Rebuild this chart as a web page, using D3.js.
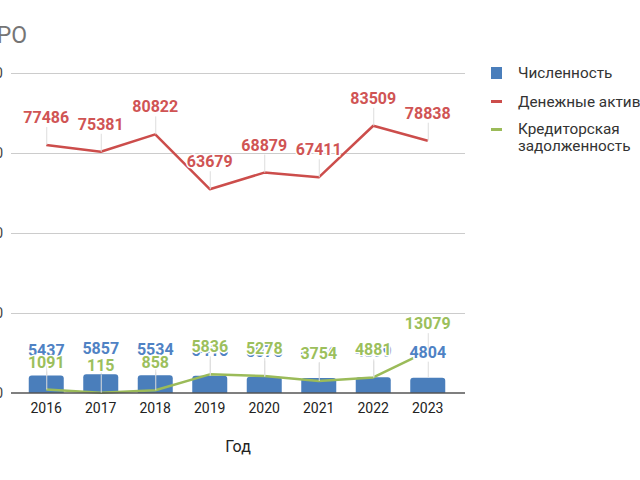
<!DOCTYPE html>
<html>
<head>
<meta charset="utf-8">
<script src="https://cdn.jsdelivr.net/npm/d3@7"></script>
<style>
    body { margin: 0; background: #fff; }
    svg { font-family: Roboto, "Noto Sans", sans-serif; }
</style>
</head>
<body>
<div id="chart"></div>
<script>
var years = ["2016", "2017", "2018", "2019", "2020", "2021", "2022", "2023"];
var staff = [5437, 5857, 5534, 5416, 5075, 4706, 4899, 4804];
var cash = [77486, 75381, 80822, 63679, 68879, 67411, 83509, 78838];
var debt = [1091, 115, 858, 5836, 5278, 3754, 4881, 13079];
var yTicks = [0, 25000, 50000, 75000, 100000];
var legendItems = ["Численность", "Денежные активы", "Кредиторская задолженность"];

Chart = function(_element) {
    this.element = _element;
    this.initVis();
}

Chart.prototype.initVis = function() {
    var vis = this;

    vis.width = 640;
    vis.height = 480;
    vis.colors = {blue: "#4a7ebb", red: "#cc4d4b", green: "#9bbb59"};
    vis.labelColors = {blue: "#4f82c4", red: "#d05454", green: "#9cbf5c"};

    vis.svg = d3.select("#" + vis.element).append("svg")
        .attr("width", vis.width)
        .attr("height", vis.height);

    // plot area
    vis.left = 11;
    vis.right = 465;

    vis.x = d3.scaleBand()
        .domain(years)
        .range([19, 455]);

    vis.y = d3.scaleLinear()
        .domain([0, 100000])
        .range([393, 73]);

    /* title (cut off on the left like the original) */
    vis.svg.append("text")
        .attr("x", 27)
        .attr("y", 43)
        .attr("text-anchor", "end")
        .style("font-size", "23px")
        .style("fill", "#757575")
        .text("РО");

    /* gridlines + y labels */
    vis.svg.append("g").selectAll("line")
        .data(yTicks.slice(1))
        .enter().append("line")
        .attr("x1", vis.left)
        .attr("x2", vis.right)
        .attr("y1", function(d) { return vis.y(d) + 0.5; })
        .attr("y2", function(d) { return vis.y(d) + 0.5; })
        .style("stroke", "#cccccc");

    vis.svg.append("g").selectAll("text")
        .data(yTicks)
        .enter().append("text")
        .attr("x", 3)
        .attr("y", function(d) { return vis.y(d) + 5; })
        .attr("text-anchor", "end")
        .style("font-size", "14px")
        .style("fill", "#444")
        .text(function(d) { return d; });

    vis.drawBars();
    vis.drawLine(cash, vis.colors.red);
    vis.drawLine(debt, vis.colors.green);

    // baseline
    vis.svg.append("line")
        .attr("x1", vis.left)
        .attr("x2", vis.right)
        .attr("y1", vis.y(0))
        .attr("y2", vis.y(0))
        .style("stroke", "#555")
        .style("stroke-width", 1.5);

    /* x axis */
    vis.svg.append("g").selectAll("text")
        .data(years)
        .enter().append("text")
        .attr("x", function(d) { return vis.x(d) + vis.x.bandwidth() / 2; })
        .attr("y", 413)
        .attr("text-anchor", "middle")
        .style("font-size", "14px")
        .style("fill", "#222")
        .text(function(d) { return d; });

    vis.svg.append("text")
        .attr("x", (vis.left + vis.right) / 2)
        .attr("y", 452)
        .attr("text-anchor", "middle")
        .style("font-size", "16px")
        .style("fill", "#222")
        .text("Год");

    /* data labels: blue first, green on top */
    vis.drawLabels(staff, 20, vis.labelColors.blue);
    vis.drawLabels(cash, 22, vis.labelColors.red);
    vis.drawLabels(debt, 22, vis.labelColors.green);

    vis.drawLegend();
};

Chart.prototype.drawBars = function() {
    var vis = this;
    var bw = 35;

    vis.svg.append("g").selectAll("path")
        .data(staff)
        .enter().append("path")
        .attr("d", function(d, i) {
            var cx = vis.x(years[i]) + vis.x.bandwidth() / 2;
            var x0 = cx - bw / 2, x1 = cx + bw / 2;
            var top = vis.y(d), bottom = vis.y(0), r = 3;
            return "M" + x0 + "," + bottom + "L" + x0 + "," + (top + r) +
                "Q" + x0 + "," + top + " " + (x0 + r) + "," + top +
                "L" + (x1 - r) + "," + top +
                "Q" + x1 + "," + top + " " + x1 + "," + (top + r) +
                "L" + x1 + "," + bottom + "Z";
        })
        .style("fill", vis.colors.blue);
};

Chart.prototype.drawLine = function(values, color) {
    var vis = this;

    var line = d3.line()
        .x(function(d, i) { return vis.x(years[i]) + vis.x.bandwidth() / 2; })
        .y(function(d) { return vis.y(d); });

    vis.svg.append("path")
        .datum(values)
        .attr("d", line)
        .style("fill", "none")
        .style("stroke", color)
        .style("stroke-width", 2.5)
        .style("stroke-linejoin", "round");
};

Chart.prototype.drawLabels = function(values, offset, color) {
    var vis = this;
    var g = vis.svg.append("g");

    // thin leader lines
    g.selectAll("line")
        .data(values)
        .enter().append("line")
        .attr("x1", function(d, i) { return vis.x(years[i]) + vis.x.bandwidth() / 2 + 0.5; })
        .attr("x2", function(d, i) { return vis.x(years[i]) + vis.x.bandwidth() / 2 + 0.5; })
        .attr("y1", function(d) { return vis.y(d); })
        .attr("y2", function(d) { return vis.y(d) - offset + 4; })
        .style("stroke", "#dddddd");

    g.selectAll("text")
        .data(values)
        .enter().append("text")
        .attr("x", function(d, i) { return vis.x(years[i]) + vis.x.bandwidth() / 2; })
        .attr("y", function(d) { return vis.y(d) - offset; })
        .attr("text-anchor", "middle")
        .style("font-size", "16px")
        .style("font-weight", "bold")
        .style("fill", color)
        .style("stroke", "#fff")
        .style("stroke-width", 3)
        .style("paint-order", "stroke")
        .text(function(d) { return d; });
};

Chart.prototype.drawLegend = function() {
    var vis = this;
    var lg = vis.svg.append("g");

    lg.append("rect")
        .attr("x", 491).attr("y", 67)
        .attr("width", 11).attr("height", 12)
        .style("fill", vis.colors.blue);
    lg.append("rect")
        .attr("x", 491).attr("y", 100)
        .attr("width", 11).attr("height", 3)
        .style("fill", vis.colors.red);
    lg.append("rect")
        .attr("x", 491).attr("y", 128)
        .attr("width", 11).attr("height", 3)
        .style("fill", vis.colors.green);

    var t = lg.append("g")
        .style("font-size", "15.3px")
        .style("fill", "#333");
    t.append("text").attr("x", 518).attr("y", 78).text(legendItems[0]);
    t.append("text").attr("x", 518).attr("y", 107).text(legendItems[1]);
    var words = legendItems[2].split(" ");
    t.append("text").attr("x", 518).attr("y", 134).text(words[0]);
    t.append("text").attr("x", 518).attr("y", 151).text(words[1]);
};

new Chart("chart");
</script>
</body>
</html>
